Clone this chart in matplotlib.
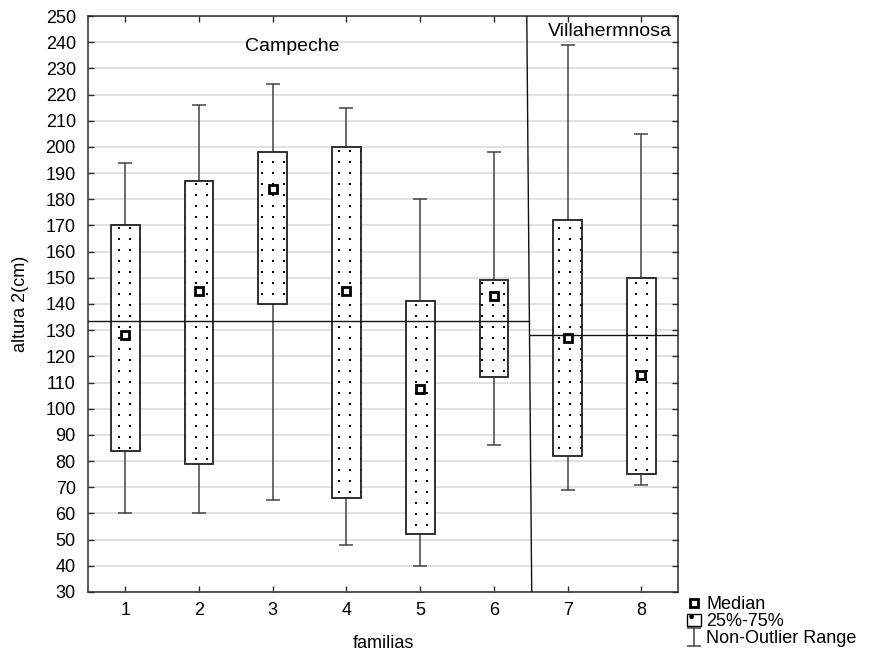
import numpy as np
import matplotlib
matplotlib.use("Agg")
import matplotlib.pyplot as plt
from matplotlib.lines import Line2D
from matplotlib.patches import Rectangle, Patch

plt.rcParams["font.family"] = ["Liberation Sans", "DejaVu Sans"]

# box plot summary per family
familias = [1, 2, 3, 4, 5, 6, 7, 8]
wmin = [60, 60, 65, 48, 40, 86, 69, 71]
q25 = [84, 79, 140, 66, 52, 112, 82, 75]
median = [128, 145, 184, 145, 107.5, 143, 127, 113]
q75 = [170, 187, 198, 200, 141, 149, 172, 150]
wmax = [194, 216, 224, 215, 180, 198, 239, 205]

# group annotations
group_names = ["Campeche", "Villahermnosa"]
group_means = [133.5, 128]
divider_x = [6.445, 6.512]  # slanted divider, top -> bottom

BOX_W = 0.39
EDGE = "#2a2a2a"
FS = 13

fig = plt.figure(figsize=(8.71, 6.59), dpi=100)
ax = fig.add_axes([0.1014, 0.1017, 0.6774, 0.874])
ax.set_xlim(0.5, 8.5)
ax.set_ylim(30, 250)

ax.set_yticks(range(30, 251, 10))
ax.set_xticks(familias)
ax.grid(axis="y", color="#dcdcdc", lw=1.2, zorder=0)
ax.tick_params(direction="in", top=True, right=True, length=4, width=1,
               color=EDGE, labelsize=FS)
ax.tick_params(axis="y", pad=9)
ax.tick_params(axis="x", pad=7)
for sp in ax.spines.values():
    sp.set_color(EDGE)
    sp.set_linewidth(1.1)

# whiskers (non-outlier range)
lower = np.array(median) - np.array(wmin)
upper = np.array(wmax) - np.array(median)
whisk = ax.errorbar(familias, median, yerr=[lower, upper], fmt="none",
                    ecolor="#444444", elinewidth=1.1, capsize=5.2,
                    capthick=1.1, zorder=2)

# dotted texture grid (in data units, global so it lines up across boxes)
dx = 8 / 590 * 11
dy = 220 / 576 * 11
x0, y0 = 0.911, 122.7
for f, lo, hi in zip(familias, q25, q75):
    rect = Rectangle((f - BOX_W / 2, lo), BOX_W, hi - lo, facecolor="white",
                     edgecolor=EDGE, lw=1.1, zorder=3)
    ax.add_patch(rect)
    kx = np.arange(np.floor((f - BOX_W / 2 - x0) / dx), np.ceil((f + BOX_W / 2 - x0) / dx) + 1)
    ky = np.arange(np.floor((lo - y0) / dy), np.ceil((hi - y0) / dy) + 1)
    gx, gy = np.meshgrid(x0 + kx * dx, y0 + ky * dy)
    dots = ax.scatter(gx.ravel(), gy.ravel(), marker="s", s=4.2, color="black",
                      linewidths=0, zorder=4)
    dots.set_clip_path(rect)
    rect2 = Rectangle((f - BOX_W / 2, lo), BOX_W, hi - lo, facecolor="none",
                      edgecolor=EDGE, lw=1.1, zorder=4.5)
    ax.add_patch(rect2)

ax.plot(familias, median, "s", mfc="white", mec="black", ms=6.3, mew=2, zorder=5)

# group means and divider
ax.plot([0.5, divider_x[0] + (divider_x[1] - divider_x[0]) * (250 - group_means[0]) / 220],
        [group_means[0]] * 2, color="#111111", lw=1, zorder=6)
ax.plot([divider_x[0] + (divider_x[1] - divider_x[0]) * (250 - group_means[1]) / 220, 8.5],
        [group_means[1]] * 2, color="#111111", lw=1, zorder=6)
ax.plot(divider_x, [250, 30], color="#111111", lw=1, zorder=6)

ax.text(3.26, 238.2, group_names[0], ha="center", va="center", fontsize=14)
ax.text(7.57, 243.9, group_names[1], ha="center", va="center", fontsize=14)

ax.set_xlabel("familias", fontsize=FS, labelpad=12)
ax.set_ylabel("altura 2(cm)", fontsize=FS, labelpad=12)

handles = [
    Line2D([], [], ls="none", marker="s", mfc="white", mec="black", ms=5.5, mew=2),
    Patch(facecolor="white", edgecolor="black", hatch="."),
    whisk,
]
fig.legend(handles, ["Median", "25%-75%", "Non-Outlier Range"],
           loc="upper left", bbox_to_anchor=(0.789, 0.095), frameon=False,
           fontsize=FS, handlelength=0.75, handleheight=0.7, handletextpad=0.3,
           labelspacing=0.0, borderpad=0, borderaxespad=0)

fig.savefig("out.png", dpi=100)
